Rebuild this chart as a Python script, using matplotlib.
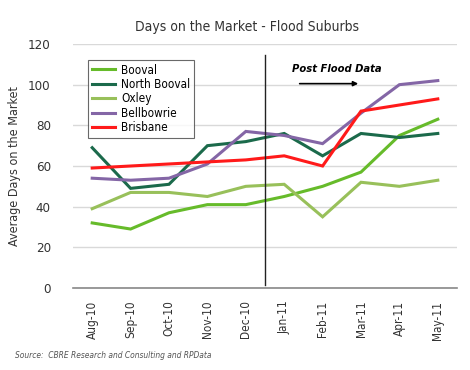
import matplotlib
matplotlib.use("Agg")
import matplotlib.pyplot as plt

plt.rcParams['font.family'] = ['DejaVu Sans']
plt.rcParams['font.stretch'] = 'condensed'

months = ['Aug-10', 'Sep-10', 'Oct-10', 'Nov-10', 'Dec-10',
          'Jan-11', 'Feb-11', 'Mar-11', 'Apr-11', 'May-11']
booval = [32, 29, 37, 41, 41, 45, 50, 57, 75, 83]
north_booval = [69, 49, 51, 70, 72, 76, 65, 76, 74, 76]
oxley = [39, 47, 47, 45, 50, 51, 35, 52, 50, 53]
bellbowrie = [54, 53, 54, 61, 77, 75, 71, 86, 100, 102]
brisbane = [59, 60, 61, 62, 63, 65, 60, 87, 90, 93]

series = [
    ('Booval', booval, '#66BB2A'),
    ('North Booval', north_booval, '#1B6A4B'),
    ('Oxley', oxley, '#98C05A'),
    ('Bellbowrie', bellbowrie, '#8466A6'),
    ('Brisbane', brisbane, '#FF1A1A'),
]

fig = plt.figure(figsize=(4.7, 3.7), dpi=100)
ax = fig.add_axes([73 / 470, 1 - 288 / 370, 384 / 470, 244 / 370])

x = list(range(len(months)))
for name, vals, col in series:
    ax.plot(x, vals, color=col, lw=2.2, label=name, solid_joinstyle='miter')

ax.set_xlim(-0.5, len(months) - 0.5)
ax.set_ylim(0, 120)
ax.set_yticks(range(0, 121, 20))
ax.set_xticks(x)
ax.set_xticklabels(months, rotation=90, fontsize=8.5, color='#333333')
ax.tick_params(axis='y', labelsize=9.5, colors='#333333', length=0, pad=16)
ax.tick_params(axis='x', length=0, pad=9)
ax.grid(axis='y', color='#D9D9D9', lw=1)
ax.set_axisbelow(True)
for s in ['top', 'right', 'left']:
    ax.spines[s].set_visible(False)
ax.spines['bottom'].set_color('#888888')
ax.spines['bottom'].set_linewidth(1.2)

# flood marker
ax.plot([4.5, 4.5], [1.5, 114.5], color='#222222', lw=1, clip_on=False)
ax.annotate('', xy=(7.0, 100.5), xytext=(5.33, 100.5),
            arrowprops=dict(arrowstyle='-|>', color='black', lw=1.2,
                            mutation_scale=7))
ax.text(5.2, 105, 'Post Flood Data', fontsize=8, style='italic',
        fontweight='bold', color='black', va='bottom')

leg = ax.legend(loc='upper left', bbox_to_anchor=(15 / 384, 1 - 16 / 244),
                fontsize=8.5, frameon=True, fancybox=False, edgecolor='#444444',
                handlelength=2.0, borderpad=0.3, labelspacing=0.12,
                handletextpad=0.5, borderaxespad=0)
leg.get_frame().set_linewidth(0.8)

ax.set_ylabel('Average Days on the Market', fontsize=9, color='#333333')
ax.yaxis.set_label_coords(-0.135, 0.5)
fig.text(247 / 470, 1 - 27 / 370, 'Days on the Market - Flood Suburbs',
         ha='center', va='center', fontsize=10, color='#333333')
fig.text(15 / 470, 1 - 355 / 370, 'Source:  CBRE Research and Consulting and RPData',
         fontsize=6, style='italic', color='#555555', va='center')

fig.savefig('out.png', dpi=100)
